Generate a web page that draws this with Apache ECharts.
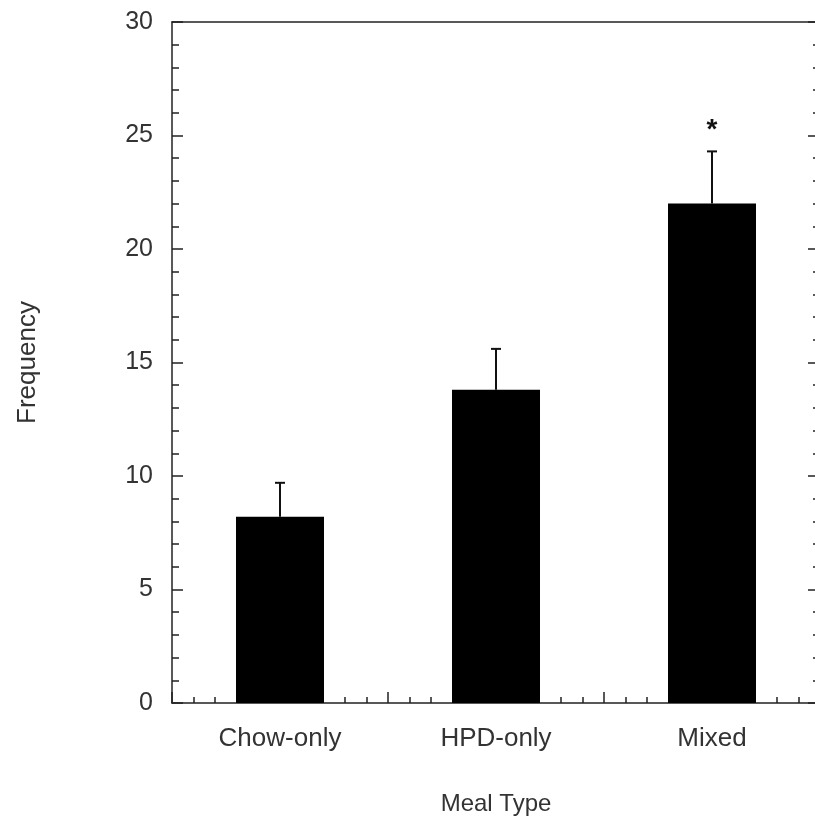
<!DOCTYPE html>
<html>
<head>
<meta charset="utf-8">
<script src="https://cdn.jsdelivr.net/npm/echarts@6/dist/echarts.min.js"></script>
<style>
  html, body { margin: 0; padding: 0; background: #fff; overflow: hidden; }
  /* wider than the window: the right frame line falls just outside the picture */
  #chart { width: 830px; height: 825px; }
</style>
</head>
<body>
<div id="chart"></div>
<script>
// data
var categories = ['Chow-only', 'HPD-only', 'Mixed'];
var means = [8.2, 13.8, 22.0];
var errors = [1.5, 1.8, 2.3];
var marks = ['', '', '*'];

var chart = echarts.init(document.getElementById('chart'));
var axisColor = '#222';
var textColor = '#333';
var font = 'Liberation Sans, Arial, sans-serif';

chart.setOption({
  animation: false,
  grid: { left: 172, right: 10, top: 22, bottom: 122, containLabel: false },
  xAxis: [
    {
      type: 'category',
      data: categories,
      position: 'bottom',
      axisLine: { onZero: false, lineStyle: { color: axisColor, width: 1.5 } },
      axisTick: { show: false },
      axisLabel: { color: textColor, fontSize: 26, fontFamily: font, margin: 23 },
      name: 'Meal Type',
      nameLocation: 'middle',
      nameGap: 89,
      nameTextStyle: { color: textColor, fontSize: 24, fontFamily: font }
    },
    {
      // tick carrier for the bottom axis
      type: 'value', min: 0, max: 3, interval: 1, position: 'bottom',
      axisLine: { show: false, onZero: false },
      axisLabel: { show: false },
      splitLine: { show: false },
      axisTick: { inside: true, length: 11, lineStyle: { color: axisColor, width: 1.5 } },
      minorTick: { show: true, splitNumber: 10, length: 6, lineStyle: { color: axisColor, width: 1.5 } }
    },
    {
      type: 'value', min: 0, max: 3, position: 'top',
      axisLine: { show: true, onZero: false, lineStyle: { color: axisColor, width: 1.5 } },
      axisLabel: { show: false }, axisTick: { show: false }, splitLine: { show: false }
    }
  ],
  yAxis: [
    {
      type: 'value', min: 0, max: 30, interval: 5,
      axisLine: { show: true, onZero: false, lineStyle: { color: axisColor, width: 1.5 } },
      axisTick: { inside: true, length: 11, lineStyle: { color: axisColor, width: 1.5 } },
      minorTick: { show: true, splitNumber: 5, length: 7, lineStyle: { color: axisColor, width: 1.5 } },
      splitLine: { show: false },
      axisLabel: { color: textColor, fontSize: 25, fontFamily: font, margin: 19 },
      name: 'Frequency',
      nameLocation: 'middle',
      nameGap: 131,
      nameTextStyle: { color: textColor, fontSize: 26, fontFamily: font }
    },
    {
      type: 'value', min: 0, max: 30, interval: 5, position: 'right',
      axisLine: { show: true, onZero: false, lineStyle: { color: axisColor, width: 1.5 } },
      axisTick: { inside: true, length: 12, lineStyle: { color: axisColor, width: 1.5 } },
      minorTick: { show: true, splitNumber: 5, length: 7, lineStyle: { color: axisColor, width: 1.5 } },
      splitLine: { show: false },
      axisLabel: { show: false }
    }
  ],
  series: [
    {
      type: 'bar',
      data: means,
      barWidth: 88,
      itemStyle: { color: '#000' }
    },
    {
      type: 'custom',
      data: means.map(function (m, i) { return [i, m, m + errors[i]]; }),
      z: 3,
      renderItem: function (params, api) {
        var i = api.value(0);
        var base = api.coord([i, api.value(1)]);
        var top = api.coord([i, api.value(2)]);
        var cap = 5;
        var children = [
          { type: 'line', shape: { x1: base[0], y1: base[1], x2: top[0], y2: top[1] },
            style: { stroke: '#111', lineWidth: 2 } },
          { type: 'line', shape: { x1: top[0] - cap, y1: top[1], x2: top[0] + cap, y2: top[1] },
            style: { stroke: '#111', lineWidth: 2 } }
        ];
        if (marks[i]) {
          children.push({
            type: 'text',
            style: { text: marks[i], x: top[0], y: top[1] - 7, align: 'center', verticalAlign: 'bottom',
                     fill: '#111', font: 'bold 28px ' + font }
          });
        }
        return { type: 'group', children: children };
      }
    }
  ]
});
</script>
</body>
</html>
